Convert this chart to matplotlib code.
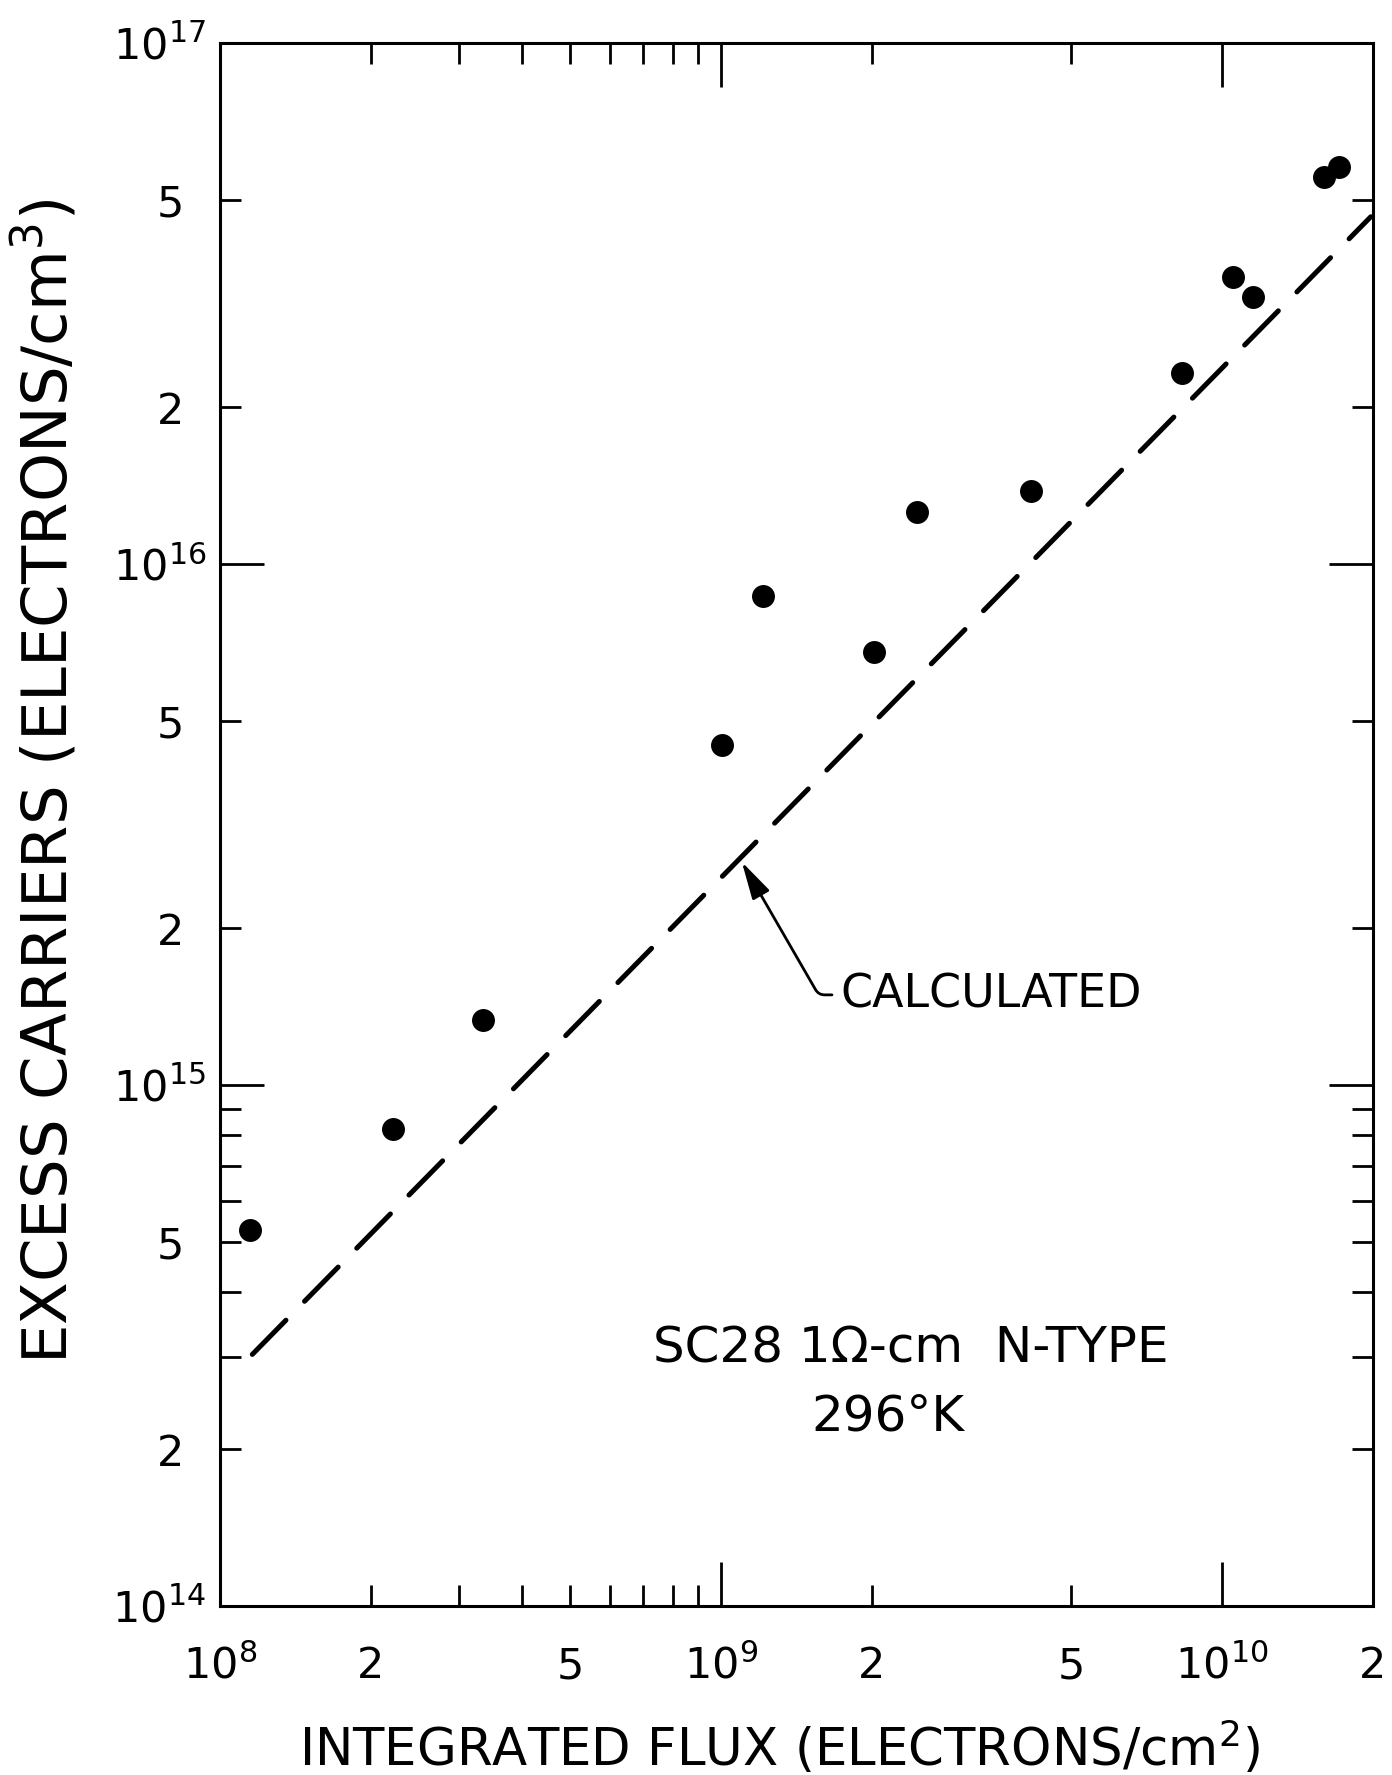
import matplotlib
matplotlib.use("Agg")
import matplotlib.pyplot as plt

flux = [1.15e8, 2.21e8, 3.35e8, 1.005e9, 1.21e9, 2.02e9, 2.46e9, 4.15e9,
        8.33e9, 1.05e10, 1.15e10, 1.60e10, 1.71e10]
carriers = [5.27e14, 8.23e14, 1.33e15, 4.5e15, 8.69e15, 6.77e15, 1.26e16,
            1.38e16, 2.33e16, 3.55e16, 3.26e16, 5.53e16, 5.77e16]

# calculated line (end points)
calc_flux = [1.16e8, 1.98e10]
calc_carriers = [3.04e14, 4.64e16]

# ticks
x_major = [1e8, 1e9, 1e10]
x_major_labels = [r"$\mathregular{10^{8}}$", r"$\mathregular{10^{9}}$", r"$\mathregular{10^{10}}$"]
x_minor = [2e8, 3e8, 4e8, 5e8, 6e8, 7e8, 8e8, 9e8, 2e9, 5e9, 2e10]
x_minor_labels = ["2", "", "", "5", "", "", "", "", "2", "5", "2"]

y_major = [1e14, 1e15, 1e16, 1e17]
y_major_labels = [r"$\mathregular{10^{14}}$", r"$\mathregular{10^{15}}$",
                  r"$\mathregular{10^{16}}$", r"$\mathregular{10^{17}}$"]
y_minor = [2e14, 3e14, 4e14, 5e14, 6e14, 7e14, 8e14, 9e14, 2e15, 5e15, 2e16, 5e16]
y_minor_labels = ["2", "", "", "5", "", "", "", "", "2", "5", "2", "5"]

fig = plt.figure(figsize=(13.92, 17.75), dpi=100)
ax = fig.add_axes([220 / 1392, 1 - 1606 / 1775, 1153 / 1392, 1563 / 1775])
ax.set_xscale("log")
ax.set_yscale("log")
ax.set_xlim(1e8, 2e10)
ax.set_ylim(1e14, 1e17)

ax.plot(calc_flux, calc_carriers, color="black", lw=3.6, dashes=(9.6, 5.3),
        dash_capstyle="round")
ax.plot(flux, carriers, "o", color="black", ms=15.5, zorder=3)

for s in ax.spines.values():
    s.set_linewidth(2.2)

ax.set_xticks(x_major, x_major_labels, va="baseline")
ax.set_xticks(x_minor, x_minor_labels, minor=True, va="baseline")
ax.set_yticks(y_major, y_major_labels)
ax.set_yticks(y_minor, y_minor_labels, minor=True)

ax.tick_params(which="both", direction="in", top=True, right=True, width=2,
               labelsize=31)
ax.tick_params(which="major", length=32)
ax.tick_params(which="minor", length=15)
ax.tick_params(axis="x", which="both", pad=52)
ax.tick_params(axis="y", which="major", pad=10)
ax.tick_params(axis="y", which="minor", pad=26)

ax.set_xlabel(r"INTEGRATED FLUX (ELECTRONS/cm$^{2}$)", fontsize=37)
ax.xaxis.set_label_coords((780 - 220) / 1153, -(1748 - 1606) / 1563)
ax.xaxis.label.set_va("center")
ax.set_ylabel(r"EXCESS CARRIERS (ELECTRONS/cm$^{3}$)", fontsize=45)
ax.yaxis.set_label_coords(-(220 - 45) / 1153, (1606 - 781) / 1563)
ax.yaxis.label.set_va("center")

ax.annotate("CALCULATED", xy=(1.1e9, 2.68e15), xycoords="data",
            xytext=(0.538, 0.391), textcoords="axes fraction",
            ha="left", va="center", fontsize=33,
            arrowprops=dict(arrowstyle="-|>,head_length=0.7,head_width=0.18",
                            connectionstyle="angle,angleA=0,angleB=-60,rad=6",
                            relpos=(0, 0.5), shrinkA=4, shrinkB=0,
                            color="black", lw=2))

ax.text(0.599, 0.165, "SC28 1Ω-cm  N-TYPE", transform=ax.transAxes,
        ha="center", va="center", fontsize=36)
ax.text(0.579, 0.121, "296°K", transform=ax.transAxes,
        ha="center", va="center", fontsize=36)

fig.savefig("out.png", dpi=100)
